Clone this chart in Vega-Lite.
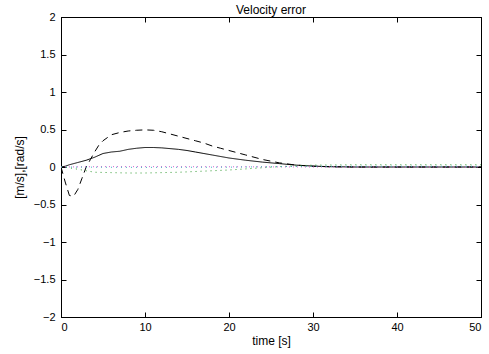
{
  "$schema": "https://vega.github.io/schema/vega-lite/v6.json",
  "autosize": {"type": "none"},
  "padding": {"left": 61, "top": 17, "right": 8, "bottom": 37},
  "width": 420,
  "height": 300,
  "title": {"text": "Velocity error", "fontSize": 12, "fontWeight": "normal", "font": "Liberation Sans", "offset": -6, "color": "black"},
  "config": {
    "view": {"stroke": "black", "strokeWidth": 1},
    "axis": {"grid": false, "domainColor": "black", "tickColor": "black", "labelColor": "black", "titleColor": "black", "labelFont": "Liberation Sans", "titleFont": "Liberation Sans", "labelFontSize": 11, "titleFontSize": 12, "titleFontWeight": "normal", "tickSize": -5, "labelPadding": 9}
  },
  "data": {"values": [
    {"t":0,"v":0,"s":"solid"},{"t":0.5,"v":0.01,"s":"solid"},{"t":1,"v":0.03,"s":"solid"},{"t":2,"v":0.06,"s":"solid"},{"t":3,"v":0.09,"s":"solid"},{"t":4,"v":0.13,"s":"solid"},{"t":5,"v":0.18,"s":"solid"},{"t":6,"v":0.2,"s":"solid"},{"t":7,"v":0.21,"s":"solid"},{"t":8,"v":0.235,"s":"solid"},{"t":9,"v":0.25,"s":"solid"},{"t":10,"v":0.26,"s":"solid"},{"t":11,"v":0.26,"s":"solid"},{"t":12,"v":0.255,"s":"solid"},{"t":13,"v":0.245,"s":"solid"},{"t":14,"v":0.235,"s":"solid"},{"t":15,"v":0.22,"s":"solid"},{"t":16,"v":0.2,"s":"solid"},{"t":17,"v":0.18,"s":"solid"},{"t":18,"v":0.16,"s":"solid"},{"t":19,"v":0.14,"s":"solid"},{"t":20,"v":0.12,"s":"solid"},{"t":22,"v":0.09,"s":"solid"},{"t":24,"v":0.065,"s":"solid"},{"t":26,"v":0.045,"s":"solid"},{"t":28,"v":0.025,"s":"solid"},{"t":30,"v":0.012,"s":"solid"},{"t":32,"v":0.004,"s":"solid"},{"t":35,"v":0,"s":"solid"},{"t":40,"v":0,"s":"solid"},{"t":50,"v":0,"s":"solid"},
    {"t":0,"v":0,"s":"dash"},{"t":0.5,"v":-0.2,"s":"dash"},{"t":1,"v":-0.38,"s":"dash"},{"t":1.5,"v":-0.39,"s":"dash"},{"t":2,"v":-0.3,"s":"dash"},{"t":2.5,"v":-0.15,"s":"dash"},{"t":3,"v":0,"s":"dash"},{"t":3.5,"v":0.1,"s":"dash"},{"t":4,"v":0.2,"s":"dash"},{"t":4.5,"v":0.29,"s":"dash"},{"t":5,"v":0.35,"s":"dash"},{"t":6,"v":0.43,"s":"dash"},{"t":7,"v":0.46,"s":"dash"},{"t":8,"v":0.48,"s":"dash"},{"t":9,"v":0.49,"s":"dash"},{"t":10,"v":0.495,"s":"dash"},{"t":11,"v":0.49,"s":"dash"},{"t":12,"v":0.47,"s":"dash"},{"t":13,"v":0.44,"s":"dash"},{"t":14,"v":0.41,"s":"dash"},{"t":15,"v":0.38,"s":"dash"},{"t":16,"v":0.35,"s":"dash"},{"t":17,"v":0.32,"s":"dash"},{"t":18,"v":0.28,"s":"dash"},{"t":19,"v":0.25,"s":"dash"},{"t":20,"v":0.22,"s":"dash"},{"t":22,"v":0.16,"s":"dash"},{"t":24,"v":0.1,"s":"dash"},{"t":26,"v":0.055,"s":"dash"},{"t":28,"v":0.025,"s":"dash"},{"t":30,"v":0.01,"s":"dash"},{"t":32,"v":0.003,"s":"dash"},{"t":35,"v":0,"s":"dash"},{"t":50,"v":0,"s":"dash"},
    {"t":0,"v":0,"s":"green"},{"t":1,"v":-0.01,"s":"green"},{"t":2,"v":-0.03,"s":"green"},{"t":3,"v":-0.05,"s":"green"},{"t":4,"v":-0.07,"s":"green"},{"t":6,"v":-0.075,"s":"green"},{"t":8,"v":-0.08,"s":"green"},{"t":10,"v":-0.08,"s":"green"},{"t":12,"v":-0.075,"s":"green"},{"t":14,"v":-0.07,"s":"green"},{"t":16,"v":-0.06,"s":"green"},{"t":18,"v":-0.05,"s":"green"},{"t":20,"v":-0.04,"s":"green"},{"t":22,"v":-0.025,"s":"green"},{"t":24,"v":-0.01,"s":"green"},{"t":26,"v":0.005,"s":"green"},{"t":28,"v":0.015,"s":"green"},{"t":30,"v":0.025,"s":"green"},{"t":35,"v":0.03,"s":"green"},{"t":40,"v":0.03,"s":"green"},{"t":45,"v":0.03,"s":"green"},{"t":50,"v":0.03,"s":"green"},
    {"t":0,"v":0,"s":"magenta"},{"t":5,"v":0.005,"s":"magenta"},{"t":10,"v":0.005,"s":"magenta"},{"t":20,"v":0.003,"s":"magenta"},{"t":30,"v":0,"s":"magenta"},{"t":50,"v":0,"s":"magenta"},
    {"t":0,"v":0,"s":"cyan"},{"t":5,"v":-0.003,"s":"cyan"},{"t":10,"v":-0.005,"s":"cyan"},{"t":20,"v":-0.002,"s":"cyan"},{"t":30,"v":0.01,"s":"cyan"},{"t":40,"v":0.01,"s":"cyan"},{"t":50,"v":0.01,"s":"cyan"}
  ]},
  "resolve": {"axis": {"x": "independent", "y": "independent"}},
  "layer": [
    {
      "mark": {"type": "line", "strokeWidth": 1, "clip": true},
      "encoding": {
        "x": {"field": "t", "type": "quantitative", "scale": {"domain": [0, 50], "nice": false}, "axis": {"orient": "bottom", "values": [0,10,20,30,40,50], "title": "time [s]", "titlePadding": 3}},
        "y": {"field": "v", "type": "quantitative", "scale": {"domain": [-2, 2], "nice": false}, "axis": {"orient": "left", "values": [-2,-1.5,-1,-0.5,0,0.5,1,1.5,2], "title": "[m/s],[rad/s]", "titlePadding": 7, "labelPadding": 11, "format": "~g"}},
        "color": {"field": "s", "type": "nominal", "scale": {"domain": ["solid","dash","green","magenta","cyan"], "range": ["#000000","#000000","#2e9a2e","#d060d0","#40b0c0"]}, "legend": null},
        "strokeDash": {"field": "s", "type": "nominal", "scale": {"domain": ["solid","dash","green","magenta","cyan"], "range": [[1,0],[7,5],[1,4],[1,3],[1,4]]}, "legend": null},
        "detail": {"field": "s"}
      }
    },
    {
      "mark": {"type": "line", "opacity": 0},
      "encoding": {
        "x": {"field": "t", "type": "quantitative", "scale": {"domain": [0, 50], "nice": false}, "axis": {"orient": "top", "values": [0,10,20,30,40,50], "labels": false, "title": null}},
        "y": {"field": "v", "type": "quantitative", "scale": {"domain": [-2, 2], "nice": false}, "axis": {"orient": "right", "values": [-2,-1.5,-1,-0.5,0,0.5,1,1.5,2], "labels": false, "title": null}},
        "detail": {"field": "s"}
      }
    }
  ]
}
